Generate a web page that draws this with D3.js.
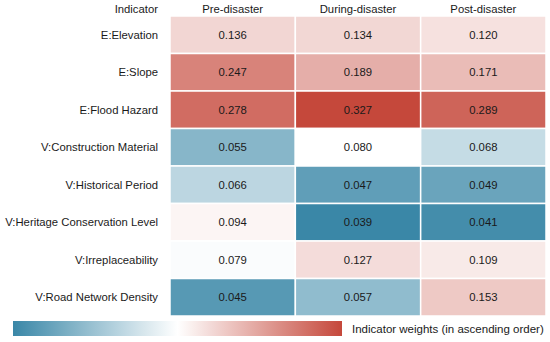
<!DOCTYPE html>
<html>
<head>
<meta charset="utf-8">
<script src="https://cdn.jsdelivr.net/npm/d3@7"></script>
<style>
  body { margin: 0; background: #fff; }
  text { font-family: "Liberation Sans", Arial, sans-serif; }
</style>
</head>
<body>
<svg id="chart" width="550" height="342"></svg>
<script>
// indicator weights heatmap
let indicators = ["E:Elevation", "E:Slope", "E:Flood Hazard", "V:Construction Material",
  "V:Historical Period", "V:Heritage Conservation Level", "V:Irreplaceability", "V:Road Network Density"]
let stages = ["Pre-disaster", "During-disaster", "Post-disaster"]
let preDisaster = [0.136, 0.247, 0.278, 0.055, 0.066, 0.094, 0.079, 0.045]
let duringDisaster = [0.134, 0.189, 0.327, 0.080, 0.047, 0.039, 0.127, 0.057]
let postDisaster = [0.120, 0.171, 0.289, 0.068, 0.049, 0.041, 0.109, 0.153]
let legendLabel = "Indicator weights (in ascending order)"

let series = [preDisaster, duringDisaster, postDisaster]
let cells = []
series.forEach(function (vals, j) {
  vals.forEach(function (v, i) {
    cells.push({ row: indicators[i], col: stages[j], value: v })
  })
})

let svg = d3.select("#chart")

let x = d3.scaleBand().domain(stages).range([170, 546])
let y = d3.scaleBand().domain(indicators).range([16, 316])

let allVals = cells.map(d => d.value)
let lo = d3.min(allVals), hi = d3.max(allVals)
let mid = 0.08

let blue = d3.interpolateRgb("#ffffff", "#3a87a7")
let red = d3.interpolateRgb("#ffffff", "#c5483b")
let color = d3.scaleDiverging()
  .domain([lo, mid, hi])
  .interpolator(function (t) {
    return t < 0.5 ? blue((0.5 - t) * 2) : red((t - 0.5) * 2)
  })

// cells
svg.append("g")
  .selectAll("rect")
  .data(cells)
  .enter()
  .append("rect")
  .attr("x", d => x(d.col))
  .attr("y", d => y(d.row))
  .attr("width", x.bandwidth())
  .attr("height", y.bandwidth())
  .attr("fill", d => color(d.value))
  .attr("stroke", "#fff")
  .attr("stroke-width", 1.5)

svg.append("g")
  .selectAll("text")
  .data(cells)
  .enter()
  .append("text")
  .attr("x", d => x(d.col) + x.bandwidth() / 2)
  .attr("y", d => y(d.row) + y.bandwidth() / 2)
  .attr("dy", "0.35em")
  .attr("text-anchor", "middle")
  .attr("font-size", 11.3)
  .attr("fill", "#1a1a1a")
  .text(d => d.value.toFixed(3))

// row labels
svg.append("g")
  .selectAll("text")
  .data(indicators)
  .enter()
  .append("text")
  .attr("x", 158)
  .attr("y", d => y(d) + y.bandwidth() / 2)
  .attr("dy", "0.35em")
  .attr("text-anchor", "end")
  .attr("font-size", 11.3)
  .attr("fill", "#1a1a1a")
  .text(d => d)

// header
svg.append("text")
  .attr("x", 158)
  .attr("y", 9)
  .attr("dy", "0.35em")
  .attr("text-anchor", "end")
  .attr("font-size", 11.3)
  .attr("fill", "#1a1a1a")
  .text("Indicator")

svg.append("g")
  .selectAll("text")
  .data(stages)
  .enter()
  .append("text")
  .attr("x", d => x(d) + x.bandwidth() / 2)
  .attr("y", 9)
  .attr("dy", "0.35em")
  .attr("text-anchor", "middle")
  .attr("font-size", 11.3)
  .attr("fill", "#1a1a1a")
  .text(d => d)

// colour bar
let defs = svg.append("defs")
let grad = defs.append("linearGradient").attr("id", "cbar")
d3.range(0, 1.0001, 0.05).forEach(function (t) {
  grad.append("stop")
    .attr("offset", (t * 100) + "%")
    .attr("stop-color", color.interpolator()(t))
})

svg.append("rect")
  .attr("x", 13)
  .attr("y", 321)
  .attr("width", 329)
  .attr("height", 15)
  .attr("fill", "url(#cbar)")

svg.append("text")
  .attr("x", 352)
  .attr("y", 328.5)
  .attr("dy", "0.35em")
  .attr("font-size", 11.5)
  .attr("fill", "#1a1a1a")
  .text(legendLabel)
</script>
</body>
</html>
